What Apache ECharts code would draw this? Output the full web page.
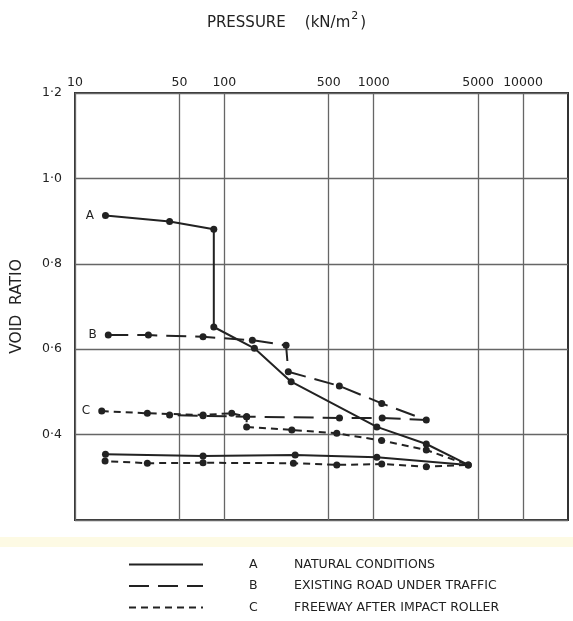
<!DOCTYPE html>
<html>
<head>
<meta charset="utf-8">
<style>
  html, body { margin: 0; padding: 0; background: #fff; }
  #chart { width: 573px; height: 621px; }
</style>
<script src="https://cdn.jsdelivr.net/npm/echarts@6/dist/echarts.min.js"></script>
</head>
<body>
<div id="chart"></div>
<script>
// pressure ticks on the log axis (kN/m2)
const pressureTicks = [10, 50, 100, 500, 1000, 5000, 10000];

// curve A - natural conditions (load then unload)
const pressA = [16, 43, 85, 85, 159, 280, 1050, 2250, 4300, 1050, 298, 72, 16];
const voidA = [0.913, 0.899, 0.881, 0.652, 0.602, 0.524, 0.418, 0.378, 0.329, 0.347, 0.352, 0.350, 0.354];

// curve B - existing road under traffic
const pressB = [16.7, 31, 72, 154, 259, 268, 589, 1132, 2250, 1140, 590, 141, 72, 43];
const voidB = [0.633, 0.633, 0.629, 0.621, 0.609, 0.547, 0.514, 0.473, 0.434, 0.439, 0.439, 0.442, 0.444, 0.446];

// curve C - freeway after impact roller
const pressC = [15.1, 30.5, 72, 112, 141, 141, 283, 566, 1130, 2250, 4300, 2250, 1132, 566, 290, 72, 30.5, 15.9];
const voidC = [0.455, 0.450, 0.446, 0.450, 0.442, 0.418, 0.411, 0.403, 0.386, 0.364, 0.329, 0.325, 0.331, 0.329, 0.333, 0.334, 0.333, 0.338];

const curveNames = ['A', 'B', 'C'];
const curveDesc = ['NATURAL CONDITIONS', 'EXISTING ROAD UNDER TRAFFIC', 'FREEWAY AFTER IMPACT ROLLER'];

const font = 'DejaVu Sans';
const ink = '#222';

function makeData(xs, ys, tag) {
  return xs.map((x, i) => {
    const item = { value: [x, ys[i]] };
    if (i === 0) {
      item.label = { show: true, position: 'left', distance: 8, formatter: tag,
        color: ink, fontFamily: font, fontSize: 12 };
    }
    return item;
  });
}

function curve(name, xs, ys, dash) {
  return {
    name: name,
    type: 'line',
    data: makeData(xs, ys, name),
    symbol: 'circle',
    symbolSize: 7,
    itemStyle: { color: ink },
    lineStyle: { color: ink, width: 2, type: dash },
    emphasis: { disabled: true },
    animation: false
  };
}

const chart = echarts.init(document.getElementById('chart'));
const option = {
  animation: false,
  title: {
    text: '{t|PRESSURE}{t|    (kN/m}{s|2}{t|)}',
    left: 'center',
    top: 6,
    textStyle: {
      fontWeight: 'normal',
      rich: {
        t: { fontFamily: font, fontSize: 15, fontWeight: 'normal', color: ink, verticalAlign: 'bottom', lineHeight: 20 },
        s: { fontFamily: font, fontSize: 11, fontWeight: 'normal', color: ink, verticalAlign: 'top', lineHeight: 20, padding: [0, 2, 9, 1] }
      }
    }
  },
  grid: {
    left: 75, right: 5, top: 93, bottom: 101,
    show: true, borderColor: '#333', borderWidth: 2
  },
  xAxis: {
    type: 'log',
    position: 'top',
    min: 10,
    max: 20000,
    axisLine: { show: false },
    axisTick: { show: false, customValues: pressureTicks },
    axisLabel: {
      customValues: pressureTicks,
      formatter: v => String(Math.round(v)),
      color: ink, fontFamily: font, fontSize: 12.5, margin: 4
    },
    splitLine: { show: true, lineStyle: { color: '#666', width: 1.3 } },
    minorSplitLine: { show: false }
  },
  yAxis: {
    type: 'value',
    name: 'VOID  RATIO',
    nameLocation: 'middle',
    nameGap: 50,
    nameTextStyle: { fontFamily: font, fontSize: 15.5, color: ink },
    min: 0.2,
    max: 1.2,
    interval: 0.2,
    axisLine: { show: false },
    axisTick: { show: false },
    axisLabel: {
      color: ink, fontFamily: font, fontSize: 12.5, margin: 13,
      formatter: v => (Math.abs(v - 0.2) < 1e-6 ? '' : v.toFixed(1).replace('.', '·'))
    },
    splitLine: { show: true, lineStyle: { color: '#666', width: 1.3 } }
  },
  legend: {
    orient: 'vertical',
    left: 128,
    top: 558,
    padding: 0,
    itemWidth: 74,
    itemHeight: 14,
    itemGap: 8.5,
    data: curveNames,
    itemStyle: { opacity: 0 },
    textStyle: {
      fontFamily: font, fontSize: 12.5, color: ink,
      rich: {
        a: { fontFamily: font, fontSize: 12.5, color: ink, width: 45, padding: [0, 0, 0, 41] },
        t: { fontFamily: font, fontSize: 12.5, color: ink }
      }
    },
    formatter: n => '{a|' + n + '}{t|' + curveDesc[curveNames.indexOf(n)] + '}'
  },
  graphic: [{
    type: 'rect', left: 0, top: 537, silent: true,
    shape: { width: 573, height: 10 },
    style: { fill: 'rgba(250, 244, 195, 0.45)' }
  }],
  series: [
    curve('A', pressA, voidA, 'solid'),
    curve('B', pressB, voidB, [20, 9]),
    curve('C', pressC, voidC, [7, 5])
  ]
};
chart.setOption(option);
</script>
</body>
</html>
